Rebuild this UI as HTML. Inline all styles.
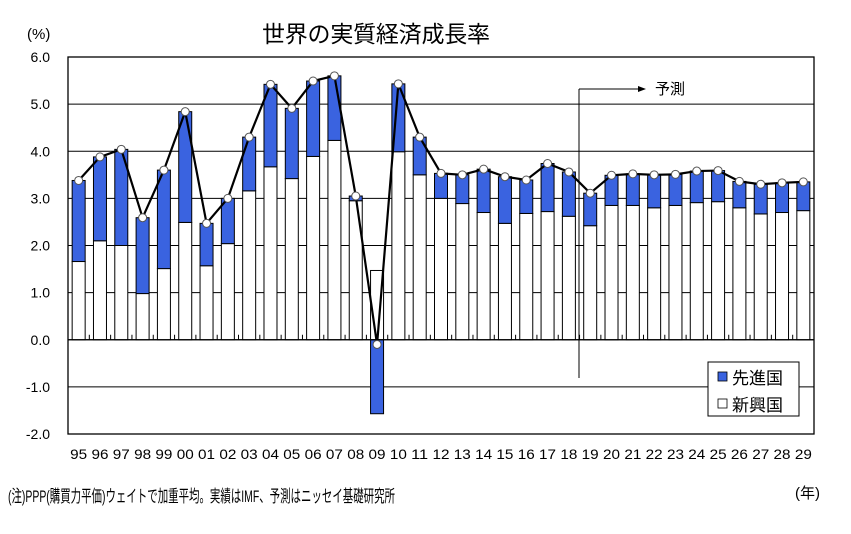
<!DOCTYPE html>
<html><head><meta charset="utf-8">
<style>
html,body{margin:0;padding:0;background:#fff;}
svg{display:block;font-family:"Liberation Sans","Noto Sans CJK JP",sans-serif;}
</style></head>
<body>
<svg id="chart" width="851" height="534" viewBox="0 0 851 534">
<text x="376" y="42" font-size="23" text-anchor="middle" textLength="228">世界の実質経済成長率</text>
<text x="27" y="39" font-size="15">(%)</text>
<g id="grid"></g>
<g id="bars"></g>
<g id="ticks"></g>
<g id="line"></g>
<rect x="68" y="57" width="746" height="377" fill="none" stroke="#000" stroke-width="1.3"/>
<g id="ylabels"></g>
<g id="xlabels"></g>
<line x1="579" y1="89" x2="579" y2="378" stroke="#000" stroke-width="1"/>
<line x1="579" y1="89" x2="640" y2="89" stroke="#000" stroke-width="1"/>
<polygon points="646,89 638,86 638,92" fill="#000"/>
<text x="655" y="94" font-size="15">予測</text>
<g>
<rect x="708" y="362" width="91" height="54" fill="#fff" stroke="#000" stroke-width="1"/>
<rect x="718" y="372" width="9" height="9" fill="#3a63e0" stroke="#000" stroke-width="0.8"/>
<text x="732" y="384" font-size="17">先進国</text>
<rect x="718" y="399" width="9" height="9" fill="#fff" stroke="#000" stroke-width="0.8"/>
<text x="732" y="411" font-size="17">新興国</text>
</g>
<text x="8" y="502" font-size="17" textLength="387" lengthAdjust="spacingAndGlyphs">(注)PPP(購買力平価)ウェイトで加重平均。実績はIMF、予測はニッセイ基礎研究所</text>
<text x="795" y="498" font-size="15">(年)</text>
</svg>
<script>
const categories=["95","96","97","98","99","00","01","02","03","04","05","06","07","08","09","10","11","12","13","14","15","16","17","18","19","20","21","22","23","24","25","26","27","28","29"];
const emerging=[1.66,2.1,2.0,0.98,1.51,2.49,1.57,2.04,3.16,3.67,3.42,3.89,4.23,2.95,1.47,3.99,3.5,3.0,2.89,2.7,2.47,2.68,2.72,2.62,2.42,2.85,2.85,2.8,2.85,2.91,2.93,2.8,2.67,2.7,2.74];
const total=[3.38,3.88,4.04,2.59,3.6,4.84,2.47,3.0,4.3,5.42,4.91,5.49,5.6,3.05,-0.1,5.43,4.3,3.53,3.5,3.62,3.46,3.39,3.74,3.56,3.11,3.49,3.52,3.5,3.51,3.58,3.59,3.36,3.3,3.33,3.35];
const yTicks=[6,5,4,3,2,1,0,-1,-2];
const NS="http://www.w3.org/2000/svg";
const L=68,R=814,T=57,B=434,ymin=-2,ymax=6;
const band=(R-L)/categories.length,bw=13;
function y(v){return B-(v-ymin)/(ymax-ymin)*(B-T);}
function xc(i){return L+band*(i+0.5);}
function mk(tag,attrs,parent){const e=document.createElementNS(NS,tag);for(const k in attrs)e.setAttribute(k,attrs[k]);parent.appendChild(e);return e;}
const grid=document.getElementById('grid'),bars=document.getElementById('bars'),ticks=document.getElementById('ticks'),line=document.getElementById('line'),yl=document.getElementById('ylabels'),xl=document.getElementById('xlabels');
yTicks.forEach(v=>{
  const g=mk('line',{x1:L,x2:R,y1:y(v),y2:y(v),stroke:'#000','stroke-width':1},grid);
  
  
  const t=mk('text',{x:50,y:y(v)+5,'font-size':14,'text-anchor':'end'},yl);
  t.textContent=v.toFixed(1);
  
  
});
categories.forEach((c,i)=>{
  const x0=xc(i)-bw/2;
  const e=emerging[i],a=total[i]-emerging[i];
  const w=mk('rect',{x:x0,y:Math.min(y(e),y(0)),width:bw,height:Math.abs(y(e)-y(0)),fill:'#fff',stroke:'#000','stroke-width':1},bars);
  
  
  let b0,b1;
  if(a>=0){b0=e;b1=e+a;}else{b0=0;b1=a;}
  const bl=mk('rect',{x:x0,y:Math.min(y(b0),y(b1)),width:bw,height:Math.abs(y(b1)-y(b0)),fill:'#3a63e0',stroke:'#000','stroke-width':1},bars);
  
  
  const tx=L+band*(i+1);
  if(i<categories.length-1){
    const tk=mk('line',{x1:tx,x2:tx,y1:y(0)-5,y2:y(0),stroke:'#000','stroke-width':1},ticks);
    
    
  }
  const t=mk('text',{x:xc(i),y:459,'font-size':14,'text-anchor':'middle',textLength:17,lengthAdjust:'spacingAndGlyphs'},xl);
  t.textContent=c;
  
  
});
const p=mk('polyline',{points:total.map((v,i)=>xc(i)+','+y(v)).join(' '),fill:'none',stroke:'#000','stroke-width':2.2},line);


total.forEach((v,i)=>{
  const c=mk('circle',{cx:xc(i),cy:y(v),r:4,fill:'#fff',stroke:'#555','stroke-width':1},line);
  
  
});
const zl=mk('line',{x1:L,x2:R,y1:y(0),y2:y(0),stroke:'#000','stroke-width':1.2},ticks);


</script>
</body></html>
